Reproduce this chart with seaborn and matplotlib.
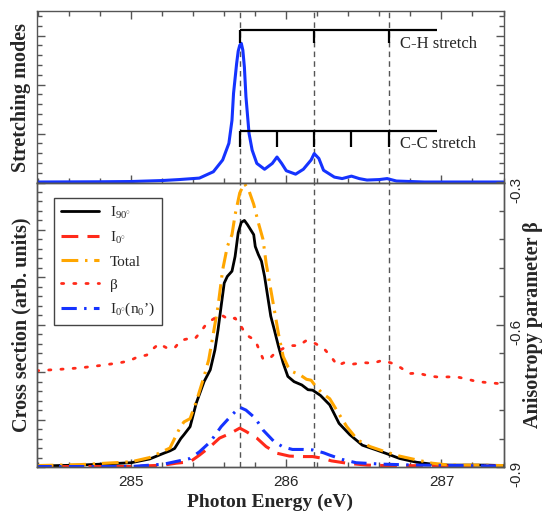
import matplotlib
matplotlib.use("Agg")
import matplotlib.pyplot as plt
from matplotlib.ticker import MultipleLocator, NullFormatter, FixedLocator
from matplotlib.transforms import ScaledTranslation
import seaborn as sns

# ---- stretching-mode envelope (top panel) ----
stretch_energy = [284.39, 284.80, 285.00, 285.20, 285.31, 285.44, 285.53, 285.59, 285.63,
                  285.65, 285.66, 285.68, 285.69, 285.70, 285.71, 285.72, 285.73, 285.74,
                  285.76, 285.78, 285.81, 285.86, 285.91, 285.94, 285.97, 286.00, 286.06,
                  286.11, 286.16, 286.18, 286.21, 286.24, 286.31, 286.36, 286.42, 286.47,
                  286.52, 286.60, 286.65, 286.71, 286.89, 287.40]
stretch_intensity = [0.01, 0.015, 0.02, 0.04, 0.06, 0.09, 0.22, 0.46, 0.80,
                     1.27, 1.82, 2.43, 2.68, 2.80, 2.84, 2.70, 2.35, 1.75,
                     1.00, 0.66, 0.39, 0.27, 0.39, 0.52, 0.39, 0.24, 0.17,
                     0.27, 0.46, 0.59, 0.49, 0.25, 0.11, 0.08, 0.13, 0.08,
                     0.05, 0.06, 0.08, 0.03, 0.01, 0.01]

# vibrational progressions (eV)
ch_modes = [285.70, 286.18, 286.66]
cc_modes = [285.70, 285.94, 286.18, 286.42, 286.66]
ladder_end = 286.97
ch_level, ch_tick_bottom = 3.12, 2.84
cc_level, cc_tick_bottom = 1.05, 0.73
ladder_labels = ["C-H stretch", "C-C stretch"]
marker_lines = [285.70, 286.18, 286.66]

# ---- cross sections (bottom panel) ----
energy_i90 = [284.39, 284.67, 285.00, 285.12, 285.21, 285.25, 285.28, 285.32, 285.34,
              285.38, 285.42, 285.47, 285.51, 285.54, 285.56, 285.58, 285.60, 285.62,
              285.65, 285.67, 285.69, 285.71, 285.73, 285.75, 285.79, 285.80, 285.82,
              285.84, 285.86, 285.88, 285.90, 285.92, 285.95, 285.98, 286.01, 286.05,
              286.10, 286.14, 286.17, 286.22, 286.28, 286.34, 286.41, 286.49, 286.58,
              286.64, 286.73, 286.84, 286.94, 287.05, 287.29, 287.40]
i90 = [0.02, 0.04, 0.09, 0.17, 0.29, 0.34, 0.39, 0.60, 0.68,
       0.85, 1.35, 1.80, 2.05, 2.47, 2.89, 3.39, 3.88, 4.02,
       4.13, 4.44, 4.94, 5.16, 5.20, 5.11, 4.90, 4.65, 4.48,
       4.34, 4.02, 3.60, 3.18, 2.93, 2.54, 2.19, 1.91, 1.80,
       1.73, 1.63, 1.62, 1.51, 1.31, 0.92, 0.68, 0.46, 0.36,
       0.29, 0.18, 0.10, 0.06, 0.04, 0.04, 0.03]

energy_i0 = [284.39, 285.00, 285.21, 285.29, 285.38, 285.44, 285.51, 285.57, 285.64,
             285.70, 285.74, 285.81, 285.87, 285.94, 286.02, 286.11, 286.17, 286.24,
             286.29, 286.39, 286.52, 286.64, 287.40]
i0 = [0.01, 0.01, 0.04, 0.08, 0.11, 0.25, 0.43, 0.61, 0.71,
      0.82, 0.75, 0.61, 0.43, 0.29, 0.23, 0.22, 0.22, 0.18,
      0.13, 0.08, 0.04, 0.03, 0.02]

energy_total = [284.39, 284.67, 285.00, 285.12, 285.25, 285.31, 285.34, 285.38, 285.42,
                285.47, 285.50, 285.53, 285.56, 285.59, 285.62, 285.65, 285.67, 285.70,
                285.73, 285.76, 285.79, 285.82, 285.85, 285.87, 285.90, 285.93, 285.95,
                285.98, 286.01, 286.04, 286.09, 286.13, 286.16, 286.19, 286.23, 286.28,
                286.33, 286.39, 286.46, 286.54, 286.64, 286.73, 286.84, 286.94, 287.05,
                287.24, 287.40]
total = [0.03, 0.05, 0.11, 0.20, 0.40, 0.80, 0.95, 1.02, 1.38,
         1.91, 2.26, 2.82, 3.39, 4.16, 4.65, 4.90, 5.32, 5.78,
         5.98, 5.82, 5.54, 5.15, 4.80, 4.30, 3.74, 3.18, 2.80,
         2.33, 2.12, 2.01, 1.94, 1.85, 1.83, 1.70, 1.56, 1.44,
         1.17, 0.85, 0.57, 0.43, 0.32, 0.23, 0.15, 0.08, 0.04,
         0.04, 0.03]

energy_n0 = [284.39, 285.00, 285.21, 285.38, 285.44, 285.51, 285.58, 285.65, 285.70,
             285.74, 285.80, 285.85, 285.92, 285.98, 286.04, 286.11, 286.17, 286.24,
             286.28, 286.36, 286.45, 286.62, 286.84, 287.40]
i0_n0 = [0.01, 0.01, 0.06, 0.18, 0.32, 0.53, 0.85, 1.10, 1.26,
         1.20, 1.03, 0.78, 0.54, 0.42, 0.37, 0.37, 0.36, 0.30,
         0.25, 0.16, 0.09, 0.06, 0.04, 0.02]

energy_beta = [284.39, 284.54, 284.67, 284.80, 284.93, 284.99, 285.04, 285.10, 285.14,
               285.18, 285.23, 285.28, 285.32, 285.36, 285.41, 285.45, 285.49, 285.53,
               285.55, 285.59, 285.63, 285.67, 285.71, 285.74, 285.80, 285.85, 285.89,
               285.93, 285.98, 286.03, 286.08, 286.13, 286.19, 286.25, 286.29, 286.33,
               286.38, 286.43, 286.50, 286.56, 286.62, 286.68, 286.74, 286.79, 286.85,
               286.92, 286.97, 287.04, 287.10, 287.17, 287.23, 287.30, 287.40]
beta = [-0.697, -0.694, -0.691, -0.686, -0.680, -0.676, -0.668, -0.664, -0.651,
        -0.640, -0.649, -0.649, -0.633, -0.630, -0.630, -0.614, -0.596, -0.588,
        -0.582, -0.581, -0.589, -0.586, -0.604, -0.621, -0.633, -0.672, -0.672,
        -0.659, -0.650, -0.644, -0.644, -0.633, -0.640, -0.653, -0.668, -0.686,
        -0.679, -0.683, -0.680, -0.681, -0.675, -0.681, -0.691, -0.703, -0.702,
        -0.708, -0.710, -0.710, -0.710, -0.715, -0.720, -0.722, -0.725]

x_ticks = [285, 286, 287]
beta_ticks = [-0.9, -0.6, -0.3]

sns.set_style("ticks")
plt.rcParams.update({
    "font.family": ["Liberation Sans", "DejaVu Sans"],
    "mathtext.fontset": "custom",
    "mathtext.rm": "Liberation Serif",
    "mathtext.it": "Liberation Serif:italic",
    "mathtext.bf": "Liberation Serif:bold",
    "axes.unicode_minus": False,
    "axes.edgecolor": "#555555",
    "axes.linewidth": 1.0,
})

SERIF = ["Liberation Serif", "DejaVu Serif"]
BLUE = "#1533ff"
RED = "#ff2a1a"
ORANGE = "#ffa600"
GRID_GREY = "#555555"

fig = plt.figure(figsize=(5.44, 5.12), dpi=100)
L, W = 36.5 / 544, 467 / 544
ax_top = fig.add_axes([L, 1 - 182.5 / 512, W, 171.5 / 512])
ax = fig.add_axes([L, 1 - 467 / 512, W, 284.5 / 512])
ax_b = ax.twinx()

xlim = (284.39, 287.40)


def style_ticks(a):
    a.tick_params(which="both", direction="in", color=GRID_GREY, width=1.0,
                  labelsize=11, top=False, right=False)
    a.tick_params(which="major", length=6)
    a.tick_params(which="minor", length=3.5)


# ---- top panel ----
sns.lineplot(x=stretch_energy, y=stretch_intensity, ax=ax_top, color=BLUE,
             lw=2.2, legend=False, sort=False, estimator=None)
for e in marker_lines:
    ax_top.axvline(e, color=GRID_GREY, lw=1.0, ls=(0, (4, 3)), zorder=0)
ax_top.hlines([ch_level], ch_modes[0], ladder_end, color="black", lw=1.6)
ax_top.vlines(ch_modes, ch_tick_bottom, ch_level, color="black", lw=1.6)
ax_top.hlines([cc_level], cc_modes[0], ladder_end, color="black", lw=1.6)
ax_top.vlines(cc_modes, cc_tick_bottom, cc_level, color="black", lw=1.6)
ax_top.text(286.735, 2.83, ladder_labels[0], family=SERIF, fontsize=12,
            va="center", ha="left")
ax_top.text(286.735, 0.78, ladder_labels[1], family=SERIF, fontsize=12,
            va="center", ha="left")
ax_top.set_xlim(*xlim)
ax_top.set_ylim(0, 3.5)
style_ticks(ax_top)
ax_top.tick_params(which="both", top=True, right=True, labelbottom=False,
                   labelleft=False)
ax_top.xaxis.set_major_locator(FixedLocator(x_ticks))
ax_top.xaxis.set_minor_locator(MultipleLocator(0.2))
ax_top.yaxis.set_major_locator(MultipleLocator(1))
ax_top.yaxis.set_minor_locator(MultipleLocator(0.2))
ax_top.set_ylabel("")
ax_top.set_xlabel("")

# ---- bottom panel ----
for e in marker_lines:
    ax.axvline(e, color=GRID_GREY, lw=1.0, ls=(0, (4, 3)), zorder=0)
sns.lineplot(x=energy_i90, y=i90, ax=ax, color="black", lw=2.0,
             label=r"I$_{90^{\circ}}$", legend=False, sort=False, estimator=None)
sns.lineplot(x=energy_i0, y=i0, ax=ax, color=RED, lw=2.2, ls=(0, (5.5, 3)),
             label=r"I$_{0^{\circ}}$", legend=False, sort=False, estimator=None)
sns.lineplot(x=energy_total, y=total, ax=ax, color=ORANGE, lw=2.2,
             ls=(0, (5.5, 2.2, 0.8, 2.2)), label="Total", legend=False,
             sort=False, estimator=None)
sns.lineplot(x=energy_n0, y=i0_n0, ax=ax, color=BLUE, lw=2.2,
             ls=(0, (5.0, 2.4, 0.8, 2.4)), label=r"I$_{0^{\circ}}$(n$_0$’)",
             legend=False, sort=False, estimator=None)
sns.lineplot(x=energy_beta, y=beta, ax=ax_b, color=RED, lw=2.0,
             ls=(0, (0.8, 3.6)), dash_capstyle="round", label="β",
             legend=False, sort=False, estimator=None)

ax.set_xlim(*xlim)
ax.set_ylim(0, 6)
ax_b.set_ylim(-0.9, -0.3)
style_ticks(ax)
style_ticks(ax_b)
ax.xaxis.set_major_locator(FixedLocator(x_ticks))
ax.xaxis.set_minor_locator(MultipleLocator(0.2))
ax.yaxis.set_major_locator(MultipleLocator(1))
ax.yaxis.set_minor_locator(MultipleLocator(0.2))
ax.yaxis.set_major_formatter(NullFormatter())
ax.tick_params(axis="x", pad=6)
ax_b.tick_params(which="both", left=False, right=True, labelright=True,
                 labelleft=False, labelsize=11, pad=4)
ax_b.yaxis.set_major_locator(FixedLocator(beta_ticks))
ax_b.yaxis.set_minor_locator(MultipleLocator(0.06))
ax_b.set_yticklabels(["-0.9", "-0.6", "-0.3"], rotation=90, va="center")
shift = ScaledTranslation(0, -7 / 100, fig.dpi_scale_trans)
for lab in ax_b.get_yticklabels():
    lab.set_transform(lab.get_transform() + shift)
ax.set_ylabel("")
ax_b.set_ylabel("")
ax.set_xlabel("")

# legend collects curves from both y scales
h1, l1 = ax.get_legend_handles_labels()
h2, l2 = ax_b.get_legend_handles_labels()
handles = [h1[0], h1[1], h1[2], h2[0], h1[3]]
labels = [l1[0], l1[1], l1[2], l2[0], l1[3]]
leg = ax_b.legend(handles, labels, loc="upper left",
                  bbox_to_anchor=(0.0375, 0.947), borderaxespad=0,
                  prop={"family": SERIF, "size": 11}, frameon=True,
                  fancybox=False, edgecolor="#444444", framealpha=1,
                  handlelength=2.5, handletextpad=0.7, labelspacing=0.6,
                  borderpad=0.45)
leg.get_frame().set_linewidth(1.0)

fig.text(270 / 544, 1 - 502 / 512, "Photon Energy (eV)", family=SERIF,
         fontweight="bold", fontsize=14, ha="center", va="center")
fig.text(21 / 544, 1 - 97 / 512, "Stretching modes", rotation=90,
         family=SERIF, fontweight="bold", fontsize=14.5, ha="center", va="center")
fig.text(21 / 544, 1 - 325 / 512, "Cross section (arb. units)", rotation=90,
         family=SERIF, fontweight="bold", fontsize=14.5, ha="center", va="center")
fig.text(533 / 544, 1 - 325 / 512, "Anisotropy parameter β", rotation=90,
         family=SERIF, fontweight="bold", fontsize=14.5, ha="center", va="center")

fig.savefig("out.png", dpi=100)
